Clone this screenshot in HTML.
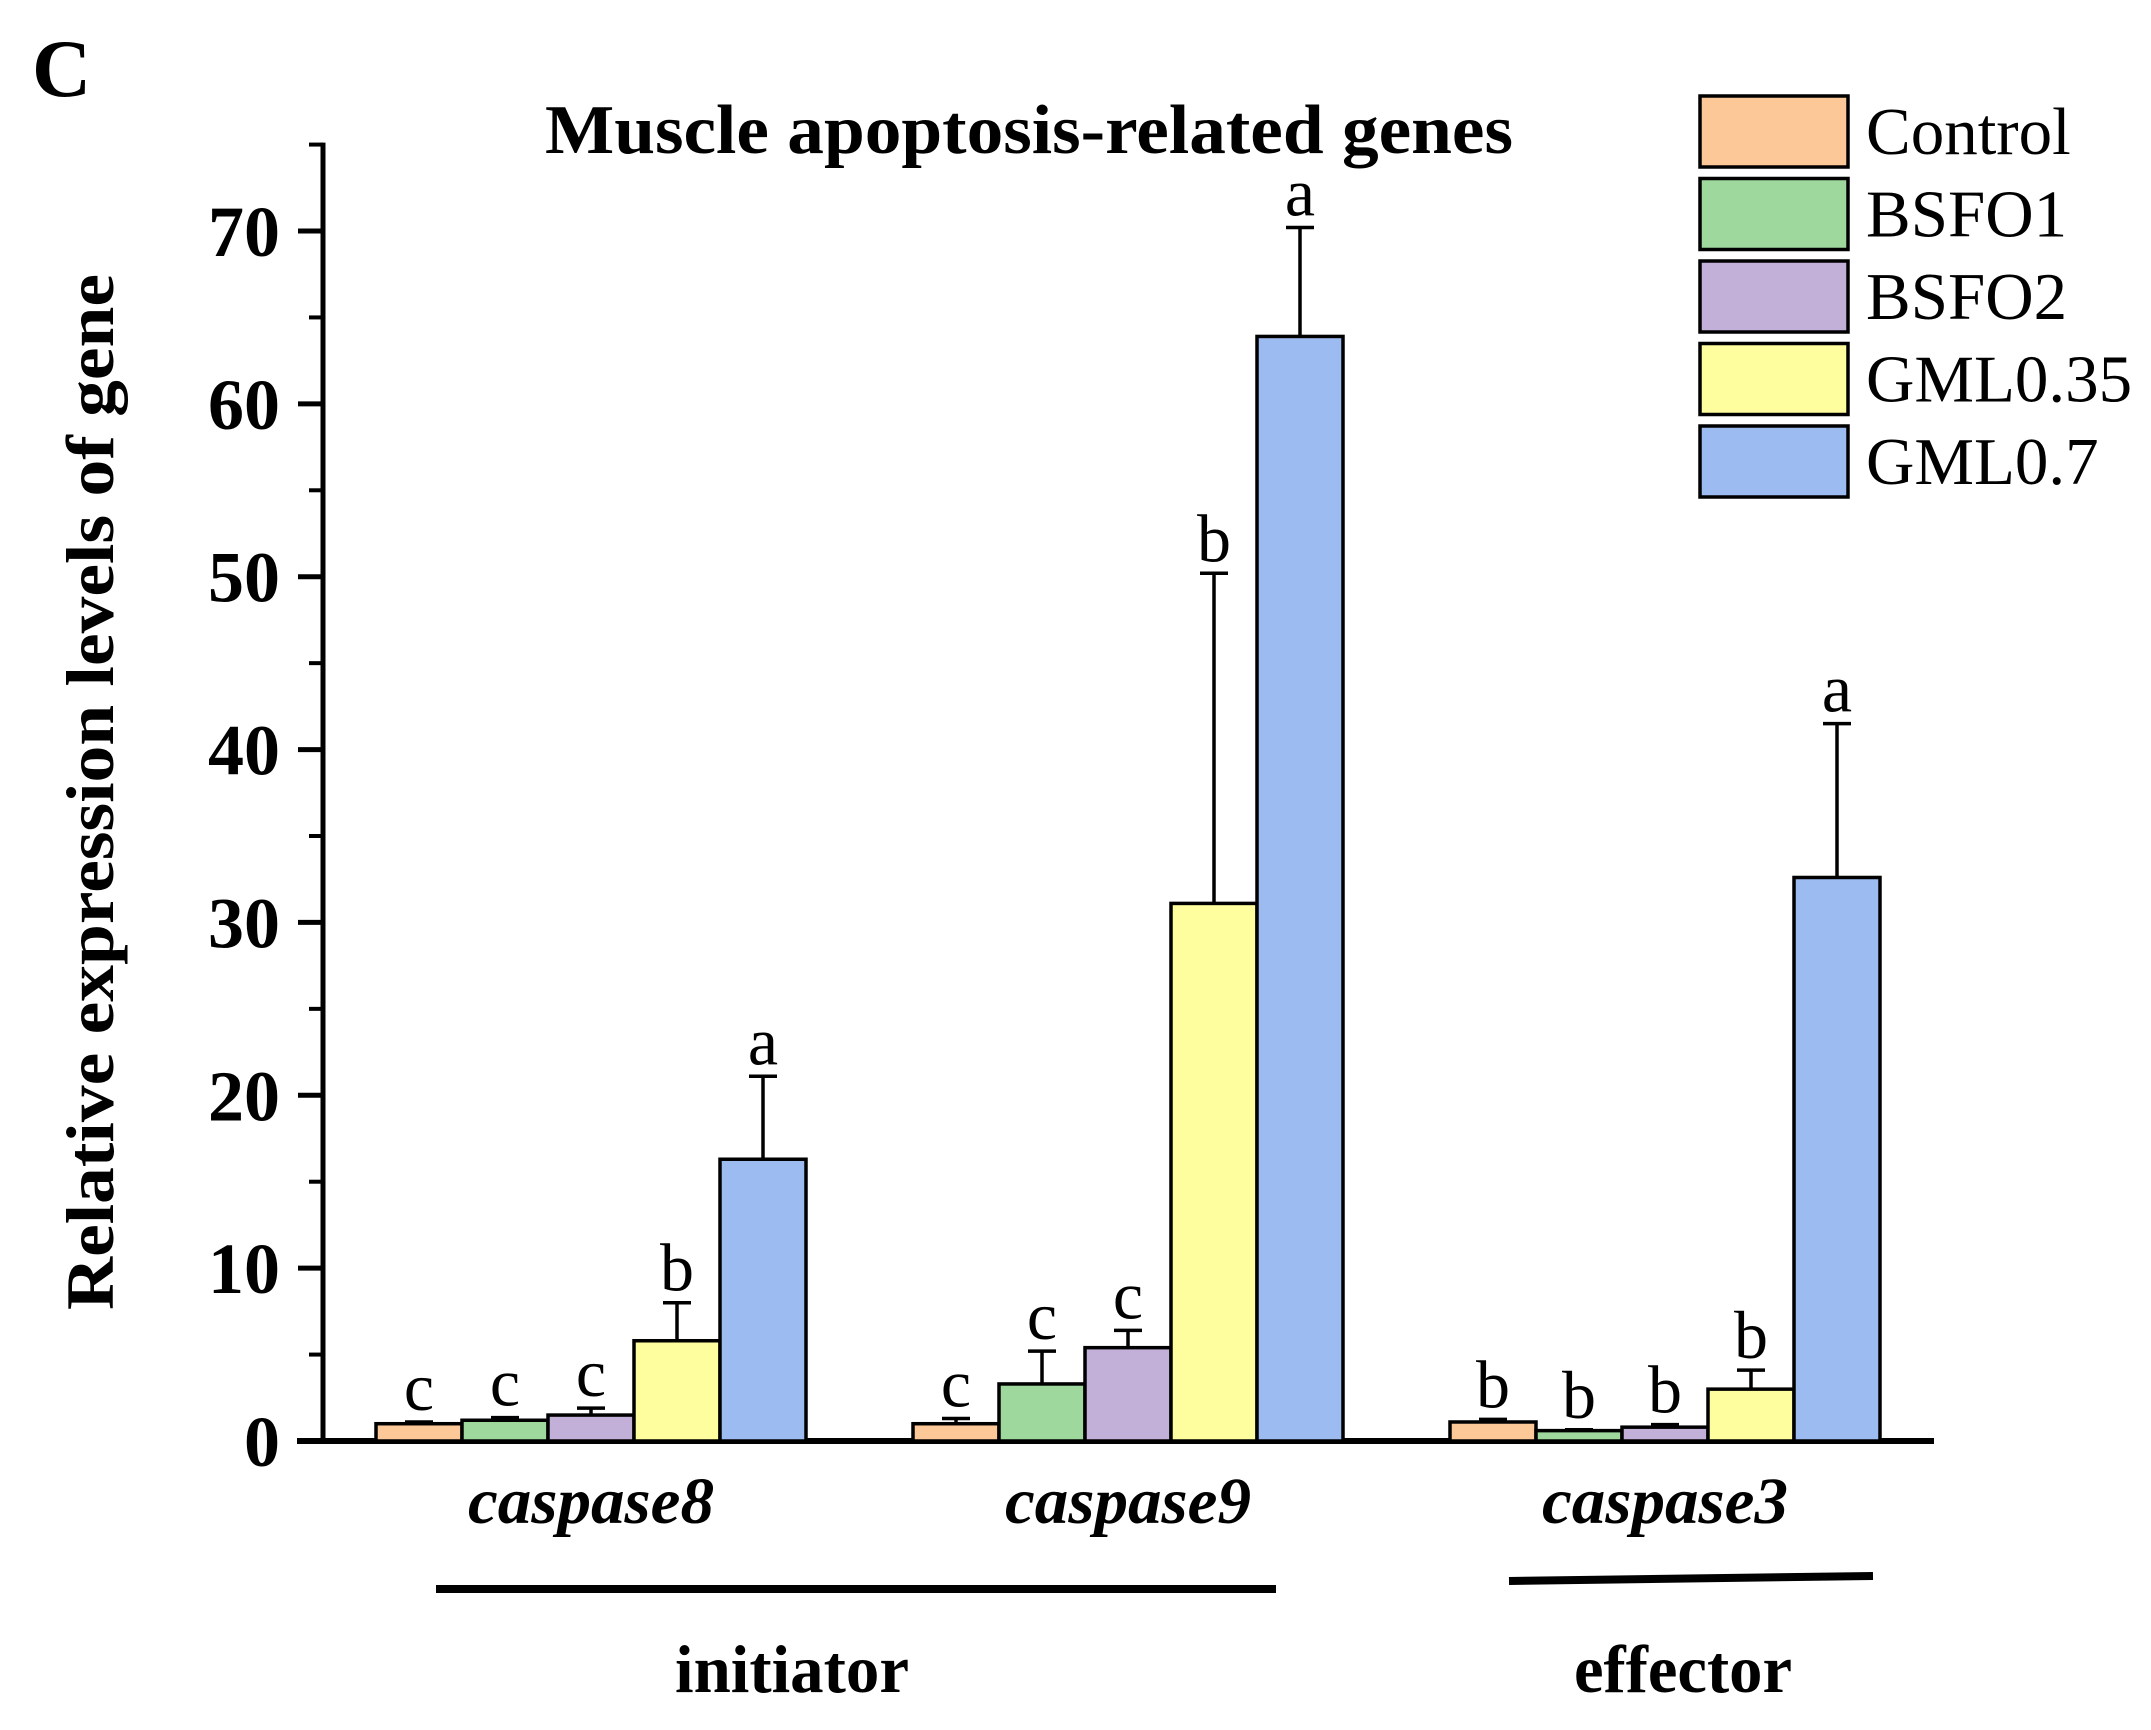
<!DOCTYPE html>
<html><head><meta charset="utf-8"><style>
html,body{margin:0;padding:0;background:#fff;}
svg{display:block;}
text{font-family:"Liberation Serif",serif;fill:#000;}
</style></head><body>
<svg id="chart" width="2151" height="1730" viewBox="0 0 2151 1730" xmlns="http://www.w3.org/2000/svg">
<text x="32" y="96" font-size="82" font-weight="bold">C</text>
<text x="1029" y="153" font-size="70" font-weight="bold" text-anchor="middle" textLength="968" lengthAdjust="spacingAndGlyphs">Muscle apoptosis-related genes</text>
<text transform="translate(113,792) rotate(-90)" font-size="68" font-weight="bold" text-anchor="middle" textLength="1036" lengthAdjust="spacingAndGlyphs">Relative expression levels of gene</text>
<g id="axes"></g>
<g id="bars"></g>
<g id="legend"></g>
<line x1="436" y1="1589" x2="1276" y2="1589" stroke="#000" stroke-width="8"/>
<line x1="1509" y1="1581" x2="1873" y2="1576" stroke="#000" stroke-width="8"/>
<text x="792" y="1692" font-size="68" font-weight="bold" text-anchor="middle" textLength="234" lengthAdjust="spacingAndGlyphs">initiator</text>
<text x="1683" y="1692" font-size="68" font-weight="bold" text-anchor="middle" textLength="218" lengthAdjust="spacingAndGlyphs">effector</text>
</svg>
<script>
const categories = ["caspase8", "caspase9", "caspase3"];
const seriesNames = ["Control", "BSFO1", "BSFO2", "GML0.35", "GML0.7"];
const seriesColors = ["#FDC897", "#9ED89C", "#C3B0D8", "#FEFE9F", "#9CBBF0"];
const controlValues = [1.0, 1.0, 1.1];
const bsfo1Values = [1.2, 3.3, 0.6];
const bsfo2Values = [1.5, 5.4, 0.8];
const gml035Values = [5.8, 31.1, 3.0];
const gml07Values = [16.3, 63.9, 32.6];
const controlErr = [0.1, 0.3, 0.15];
const bsfo1Err = [0.15, 1.9, 0.05];
const bsfo2Err = [0.4, 1.0, 0.15];
const gml035Err = [2.2, 19.1, 1.1];
const gml07Err = [4.8, 6.3, 8.9];
const controlLetters = ["c", "c", "b"];
const bsfo1Letters = ["c", "c", "b"];
const bsfo2Letters = ["c", "c", "b"];
const gml035Letters = ["b", "b", "b"];
const gml07Letters = ["a", "a", "a"];
const yTicks = [0, 10, 20, 30, 40, 50, 60, 70];
const yMinorTicks = [5, 15, 25, 35, 45, 55, 65, 75];

const values = [controlValues, bsfo1Values, bsfo2Values, gml035Values, gml07Values];
const errs = [controlErr, bsfo1Err, bsfo2Err, gml035Err, gml07Err];
const letters = [controlLetters, bsfo1Letters, bsfo2Letters, gml035Letters, gml07Letters];

const NS = "http://www.w3.org/2000/svg";
const X0 = 323, Y0 = 1441, PX_PER = (1441 - 231) / 70;
const GROUP0 = 376, GROUP_PITCH = 537, BAR_W = 86;
function y(v){ return Y0 - v * PX_PER; }
function barX(g, s){ return GROUP0 + g * GROUP_PITCH + s * BAR_W; }
function mk(tag, attrs, parent){
  const e = document.createElementNS(NS, tag);
  for (const k in attrs) e.setAttribute(k, attrs[k]);
  parent.appendChild(e); return e;
}
const axes = document.getElementById("axes");
const barsG = document.getElementById("bars");
const legend = document.getElementById("legend");

const yAxis = mk("line", {x1:X0, y1:y(75)-2, x2:X0, y2:Y0+2, stroke:"#000", "stroke-width":5}, axes);


const xAxis = mk("line", {x1:297, y1:Y0, x2:1934, y2:Y0, stroke:"#000", "stroke-width":6}, axes);


yTicks.forEach(t => {
  const tk = mk("line", {x1:X0-25, y1:y(t), x2:X0, y2:y(t), stroke:"#000", "stroke-width":5}, axes);
  
  
  const lb = mk("text", {x:280, y:y(t)+25, "font-size":72, "font-weight":"bold", "text-anchor":"end"}, axes);
  lb.textContent = t;
  
  
});
yMinorTicks.forEach(t => {
  const tk = mk("line", {x1:X0-14, y1:y(t), x2:X0, y2:y(t), stroke:"#000", "stroke-width":4}, axes);
  
  
});

categories.forEach((c, g) => {
  values.forEach((arr, s) => {
    const v = arr[g], top = v + errs[s][g];
    const bx = barX(g, s), cx = bx + BAR_W/2;
    const eb = mk("line", {x1:cx, y1:y(v), x2:cx, y2:y(top), stroke:"#000", "stroke-width":3.5}, barsG);
    
    
    const cap = mk("line", {x1:cx-14, y1:y(top), x2:cx+14, y2:y(top), stroke:"#000", "stroke-width":3.5}, barsG);
    
    
    const r = mk("rect", {x:bx, y:y(v), width:BAR_W, height:Y0 - y(v), fill:seriesColors[s], stroke:"#000", "stroke-width":3.5}, barsG);
    
    
    const lt = mk("text", {x:cx, y:y(top)-12, "font-size":68, "text-anchor":"middle"}, barsG);
    lt.textContent = letters[s][g];
    
    
  });
  const cl = mk("text", {x:GROUP0 + g*GROUP_PITCH + 2.5*BAR_W, y:1523, "font-size":66, "font-weight":"bold", "font-style":"italic", "text-anchor":"middle", textLength:246, lengthAdjust:"spacingAndGlyphs"}, barsG);
  cl.textContent = c;
  
  
});

seriesNames.forEach((n, i) => {
  const ty = 96 + i * 82.5;
  const box = mk("rect", {x:1700, y:ty, width:148, height:71, fill:seriesColors[i], stroke:"#000", "stroke-width":3.5}, legend);
  
  
  const t = mk("text", {x:1866, y:ty+58, "font-size":67}, legend);
  t.textContent = n;
  
  
});
</script>
</body></html>
